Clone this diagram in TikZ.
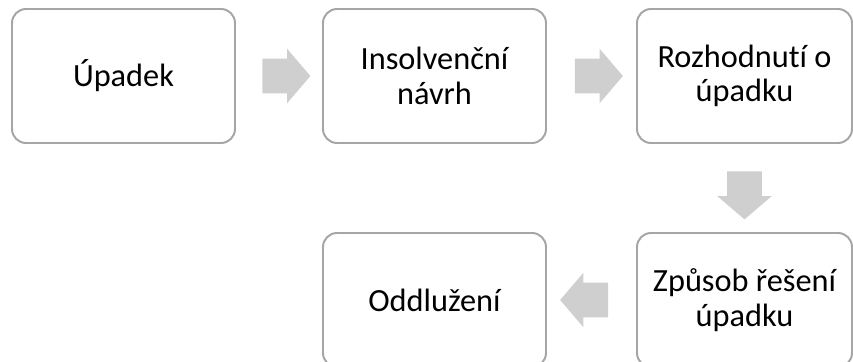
\documentclass[tikz,border=0pt]{standalone}
\usepackage{fontspec}
\setmainfont{Carlito}[Ligatures=NoCommon]
\usetikzlibrary{shapes.arrows,calc}
\definecolor{boxgray}{RGB}{166,166,166}
\definecolor{arrowgray}{RGB}{207,207,207}
\begin{document}
\begin{tikzpicture}[
    krok/.style={draw=boxgray, line width=1.4pt, fill=white, rounded corners=0.35cm,
      minimum width=5.575cm, minimum height=3.35cm, inner sep=0pt, align=center,
      font=\fontsize{23}{24.5}\selectfont},
    sipka/.style={single arrow, fill=arrowgray, draw=none, inner xsep=0pt, inner ysep=0.425cm,
      single arrow head extend=0.25cm, single arrow tip angle=99, minimum height=1.2cm}]
  \useasboundingbox (0,0) rectangle (21.325,9.025);
  % horni rada
  \node[krok] (upadek) at (3.0875,7.125) {Úpadek};
  \node[krok] (navrh) at (10.8625,7.125) {Insolvenční\\návrh};
  \node[krok, minimum width=5.375cm] (rozhodnuti) at (18.6125,7.125) {Rozhodnutí o\\úpadku};
  % dolni rada
  \node[krok] (oddluzeni) at (10.8625,1.525) {Oddlužení};
  \node[krok, minimum width=5.375cm] (zpusob) at (18.6125,1.525) {Způsob řešení\\úpadku};
  % sipky
  \node[sipka] (s1) at ($(upadek.east)!0.5!(navrh.west)$) {};
  \node[sipka] (s2) at ($(navrh.east)!0.5!(rozhodnuti.west)$) {};
  \node[sipka, rotate=-90] (s3) at ($(rozhodnuti.south)!0.5!(zpusob.north)$) {};
  \node[sipka, rotate=180] (s4) at ($(zpusob.west)!0.5!(oddluzeni.east)$) {};
\end{tikzpicture}
\end{document}
